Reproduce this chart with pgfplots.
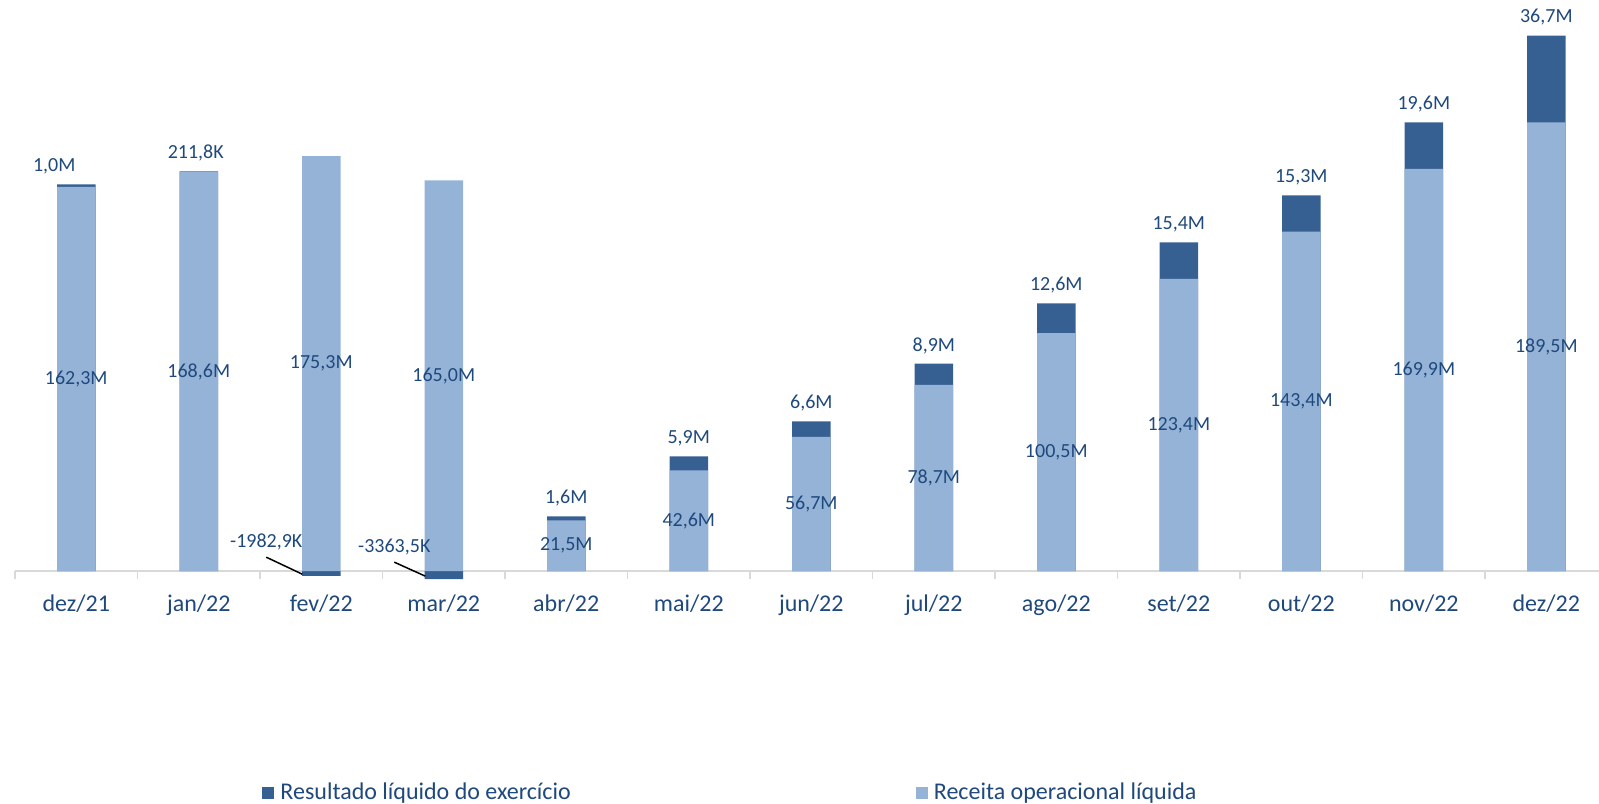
\documentclass[border=0pt]{standalone}
\usepackage{fontspec}
\setmainfont{Carlito}
\usepackage{pgfplots}
\usepackage{pgfplotstable}
\pgfplotsset{compat=1.18}

\definecolor{receita}{HTML}{95B3D7}
\definecolor{resultado}{HTML}{376092}
\definecolor{lbl}{HTML}{1F497D}
\definecolor{axisgray}{HTML}{D9D9D9}

% valores em milhoes; dx = deslocamento do rotulo (pt)
\pgfplotstableread{
x rec   res     lab       dx
0  162.3  1.0     {1,0M}    -11
1  168.6  0.2118  {211,8K}  -1.5
2  175.3  -1.9829 {}        0
3  165.0  -3.3635 {}        0
4  21.5   1.6     {1,6M}    0
5  42.6   5.9     {5,9M}    0
6  56.7   6.6     {6,6M}    0
7  78.7   8.9     {8,9M}    0
8  100.5  12.6    {12,6M}   0
9  123.4  15.4    {15,4M}   0
10 143.4  15.3    {15,3M}   0
11 169.9  19.6    {19,6M}   0
12 189.5  36.7    {36,7M}   0
}\dados

\begin{document}
\begin{tikzpicture}
\useasboundingbox (-7.5pt,-110pt) rectangle (792pt,291.5pt);
\begin{axis}[
    at={(0pt,0pt)}, anchor=south west,
    scale only axis,
    width=792pt, height=291.5pt,
    xmin=-0.5, xmax=12.43,
    ymin=-5, ymax=241.2,
    clip=false,
    axis x line*=middle,
    axis y line=none,
    x axis line style={draw=axisgray, line width=0.75pt},
    xtick={0,...,12},
    xticklabels={dez/21,jan/22,fev/22,mar/22,abr/22,mai/22,jun/22,jul/22,ago/22,set/22,out/22,nov/22,dez/22},
    minor xtick={-0.5,0.5,...,11.5},
    major tick length=0pt,
    minor tick length=4pt,
    xtick align=outside,
    minor tick style={draw=axisgray, line width=0.75pt},
    xticklabel style={font=\fontsize{12}{14}\selectfont, text=lbl, anchor=base, yshift=-20pt},
    /pgf/number format/assume math mode=true,
    ybar, bar width=19.25pt, bar shift=0pt,
    legend columns=2,
    legend style={at={(0.1522,-0.36)}, anchor=west, draw=none, fill=none,
        font=\fontsize{12}{14}\selectfont, text=lbl,
        nodes={inner sep=1.5pt},
        /tikz/every even column/.append style={column sep=171pt}},
    legend image code/.code={\fill[#1] (0pt,-3pt) rectangle (6pt,3pt); \path (7.5pt,0pt);},
]
% resultado liquido: empilhado sobre a receita, ou abaixo de zero se negativo
\addplot[fill=resultado, draw=none,
    point meta=explicit symbolic,
    visualization depends on={\thisrow{dx} \as \dx},
    nodes near coords,
    every node near coord/.append style={font=\fontsize{10}{12}\selectfont, text=lbl, anchor=south, xshift=\dx pt, yshift=1.5pt}]
    table[x=x, y expr={\thisrow{res}<0 ? \thisrow{res} : \thisrow{rec}+\thisrow{res}}, meta=lab] {\dados};
\addlegendentry{Resultado líquido do exercício}

\addplot[fill=receita, draw=none,
    point meta=y,
    visualization depends on=y \as \rawy,
    nodes near coords={\pgfmathprintnumber[fixed, fixed zerofill, precision=1, use comma, assume math mode=true]{\pgfplotspointmeta}M},
    every node near coord/.append style={font=\fontsize{10}{12}\selectfont, text=lbl, anchor=center,
        shift={(axis direction cs:0,-\rawy/2)}}]
    table[x=x, y=rec] {\dados};
\addlegendentry{Receita operacional líquida}

% rotulos dos valores negativos
\draw[black, line width=0.75pt] (axis cs:1.551,5.9) -- (axis cs:1.845,-1.27);
\node[font=\fontsize{10}{12}\selectfont, text=lbl] at (axis cs:1.551,12.25) {-1982,9K};
\draw[black, line width=0.75pt] (axis cs:2.596,3.8) -- (axis cs:2.849,-2.1);
\node[font=\fontsize{10}{12}\selectfont, text=lbl] at (axis cs:2.596,10.1) {-3363,5K};
\end{axis}
\end{tikzpicture}
\end{document}
